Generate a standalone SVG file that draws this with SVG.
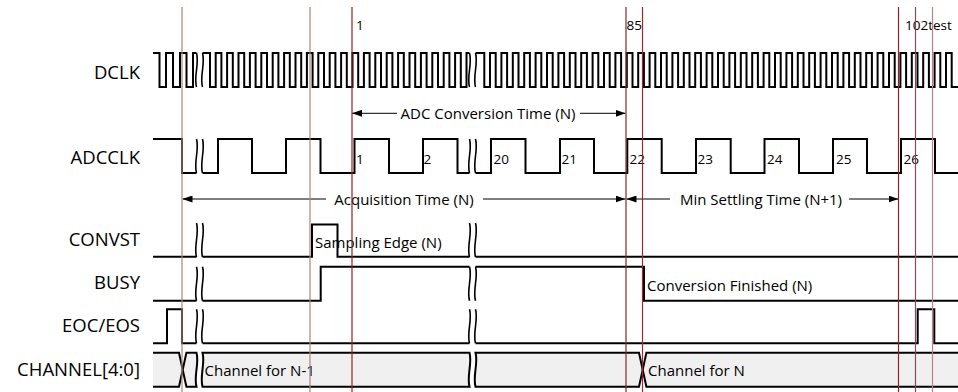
<svg xmlns="http://www.w3.org/2000/svg" width="958" height="392" viewBox="0 0 958 392">
<style>
.lbl{font-family:"Open Sans","Liberation Sans",sans-serif;font-size:18.5px;fill:#000;text-anchor:end}
.t{font-family:"Open Sans","Liberation Sans",sans-serif;font-size:15px;fill:#000}
.tm{font-family:"Open Sans","Liberation Sans",sans-serif;font-size:15px;fill:#000;text-anchor:middle}
.n{font-family:"Open Sans","Liberation Sans",sans-serif;font-size:13.5px;fill:#000}
.w{fill:none;stroke:#000;stroke-width:2;stroke-linejoin:miter}
.bus{fill:#f0f0f0;stroke:#000;stroke-width:2}
.brk{fill:none;stroke:#000;stroke-width:1.6}
.ar{fill:none;stroke:#000;stroke-width:1}
.vl{stroke-width:1.2;fill:none}
</style>
<defs>
<marker id="ah" viewBox="0 0 10 7" refX="10" refY="3.5" markerWidth="10" markerHeight="7" markerUnits="userSpaceOnUse" orient="auto-start-reverse"><path d="M0,0 L10,3.5 L0,7 Z" fill="#000"/></marker>
<g id="bk"><path class="brk" d="M0,0 C3,11 -3,23 0,34"/><path class="brk" d="M6,0 C9,11 3,23 6,34"/></g>
</defs>
<rect width="958" height="392" fill="#fff"/>

<g id="dclk">
<text class="lbl" x="140" y="79">DCLK</text>
<path class="w" d="M153,53 H159.5 V87 H166 V53 H173 V87 H180 V53 H186.5 V87 H193 V53 H196.5"/>
<path class="w" d="M202.5,53 H210 V87 h5.7V53h5.7V87h5.7V53h5.7V87h5.7V53h5.7V87h5.7V53h5.7V87h5.7V53h5.7V87 h5.7V53h5.7V87h5.7V53h5.7V87h5.7V53h5.7V87h5.7V53h5.7V87h5.7V53h5.7V87 h5.7V53h5.7V87h5.7V53h5.7V87h5.7V53h5.7V87h5.7V53h5.7V87h5.7V53h5.7V87 h5.7V53h5.7V87h5.7V53h5.7V87h5.7V53h5.7V87h5.7V53h5.7V87h5.7V53h5.7V87 h5.7V53h5.7V87h5.7V53h5.7V87 h5.7V53 H469.5"/>
<path class="w" d="M475.5,53 H484.3 V87 h5.7V53h5.7V87h5.7V53h5.7V87h5.7V53h5.7V87h5.7V53h5.7V87h5.7V53h5.7V87 h5.7V53h5.7V87h5.7V53h5.7V87h5.7V53h5.7V87h5.7V53h5.7V87h5.7V53h5.7V87 h5.7V53h5.7V87h5.7V53h5.7V87h5.7V53h5.7V87h5.7V53h5.7V87h5.7V53h5.7V87 h5.7V53h5.7V87h5.7V53h5.7V87h5.7V53h5.7V87h5.7V53h5.7V87h5.7V53h5.7V87 h5.7V53h5.7V87h5.7V53h5.7V87h5.7V53h5.7V87h5.7V53h5.7V87h5.7V53h5.7V87 h5.7V53h5.7V87h5.7V53h5.7V87h5.7V53h5.7V87h5.7V53h5.7V87h5.7V53h5.7V87 h5.7V53h5.7V87h5.7V53h5.7V87h5.7V53h5.7V87h5.7V53h5.7V87h5.7V53h5.7V87 h5.7V53h5.7V87h5.7V53h5.7V87h5.7V53h5.7V87h5.7V53h5.7V87h5.7V53h5.7V87 h5.7V53h5.7V87 H958"/>
<use href="#bk" x="196.5" y="53"/>
<use href="#bk" x="469.5" y="53"/>
<text class="n" x="356" y="29.5">1</text>
<text class="n" x="626.5" y="29.5">85</text>
<text class="n" x="905" y="29.5">102test</text>
</g>

<g id="adcclk">
<text class="lbl" x="140" y="164">ADCCLK</text>
<path class="w" d="M153,139 H182 V173 H196.5"/>
<path class="w" d="M202.5,173 H218 V139 H252 V173 H286 V139 H320.5 V173 H354.5 V139 H389 V173 H423 V139 H457.5 V173 H469.5"/>
<path class="w" d="M475.5,173 H491 V139 H525.5 V173 H560 V139 H594 V173 H627.3 V139 H661.7 V173 H696 V139 H730.7 V173 H764.5 V139 H799 V173 H833 V139 H867 V173 H901 V139 H935 V173 H958"/>
<use href="#bk" x="196.5" y="139"/>
<use href="#bk" x="469.5" y="139"/>
<text class="n" x="356" y="163.5">1</text>
<text class="n" x="423.5" y="163.5">2</text>
<text class="n" x="493.5" y="163.5">20</text>
<text class="n" x="561.5" y="163.5">21</text>
<text class="n" x="629.5" y="163.5">22</text>
<text class="n" x="697.5" y="163.5">23</text>
<text class="n" x="767" y="163.5">24</text>
<text class="n" x="836" y="163.5">25</text>
<text class="n" x="903.5" y="163.5">26</text>
</g>

<g id="convst">
<text class="lbl" x="140" y="245.5">CONVST</text>
<path class="w" d="M153,256.7 H196.5"/>
<path class="w" d="M202.5,256.7 H312 V224.5 H337.5 V256.7 H469.5"/>
<path class="w" d="M475.5,256.7 H958"/>
<use href="#bk" x="196.5" y="223"/>
<use href="#bk" x="469.5" y="223"/>
<text class="t" x="315" y="247.5">Sampling Edge (N)</text>
</g>

<g id="busy">
<text class="lbl" x="140" y="289.3">BUSY</text>
<path class="w" d="M153,300.7 H196.5"/>
<path class="w" d="M202.5,300.7 H320.7 V266.7 H469.5"/>
<path class="w" d="M475.5,266.7 H644 V300.7 H958"/>
<use href="#bk" x="196.5" y="266.7"/>
<use href="#bk" x="469.5" y="266.7"/>
<text class="t" x="647" y="290.5">Conversion Finished (N)</text>
</g>

<g id="eoc">
<text class="lbl" x="140" y="332.3">EOC/EOS</text>
<path class="w" d="M153,343.3 H167 V309.3 H182 V343.3 H196.5"/>
<path class="w" d="M202.5,343.3 H469.5"/>
<path class="w" d="M475.5,343.3 H917.7 V309.3 H934.3 V343.3 H958"/>
<use href="#bk" x="196.5" y="309.3"/>
<use href="#bk" x="469.5" y="309.3"/>
</g>

<g id="channel">
<text class="lbl" x="140" y="376">CHANNEL[4:0]</text>
<path class="bus" d="M153,352.7 H179 L182.7,369.7 L179,386.7 H153"/>
<path class="bus" d="M182.7,369.7 L186.4,352.7 H196.5 C199.5,363.7 193.5,375.7 196.5,386.7 H186.4 Z"/>
<path class="bus" d="M202.5,352.7 H469.5 C472.5,363.7 466.5,375.7 469.5,386.7 H202.5 C199.5,375.7 205.5,363.7 202.5,352.7 Z"/>
<path class="bus" d="M475.5,352.7 H639 L642.7,369.7 L639,386.7 H475.5 C472.5,375.7 478.5,363.7 475.5,352.7 Z"/>
<path class="bus" d="M642.7,369.7 L646.4,352.7 H962 V386.7 H646.4 Z"/>
<text class="t" x="204.5" y="376">Channel for N-1</text>
<text class="t" x="648" y="376">Channel for N</text>
</g>

<g id="connectors">
<path class="ar" d="M352,113.3 H397" marker-start="url(#ah)"/>
<path class="ar" d="M580,113.3 H625.5" marker-end="url(#ah)"/>
<text class="tm" x="488" y="119">ADC Conversion Time (N)</text>
<path class="ar" d="M182.5,199 H326" marker-start="url(#ah)"/>
<path class="ar" d="M483,199 H625.5" marker-end="url(#ah)"/>
<text class="tm" x="404" y="204.5">Acquisition Time (N)</text>
<path class="ar" d="M626.5,199 H670" marker-start="url(#ah)"/>
<path class="ar" d="M849,199 H898.5" marker-end="url(#ah)"/>
<text class="tm" x="761" y="204.5">Min Settling Time (N+1)</text>
</g>

<g id="markers">
<line class="vl" x1="182" y1="7" x2="182" y2="392" stroke="#b57f7f"/>
<line class="vl" x1="310" y1="7" x2="310" y2="392" stroke="#b57f7f"/>
<line class="vl" x1="352" y1="7" x2="352" y2="392" stroke="#962020"/>
<line class="vl" x1="626" y1="7" x2="626" y2="392" stroke="#7d2a2a"/>
<line class="vl" x1="642.5" y1="7" x2="642.5" y2="392" stroke="#a02828"/>
<line class="vl" x1="898.5" y1="7" x2="898.5" y2="392" stroke="#962020"/>
<line class="vl" x1="915.5" y1="7" x2="915.5" y2="392" stroke="#8a4a5a"/>
<line class="vl" x1="932.5" y1="7" x2="932.5" y2="392" stroke="#c08080"/>
</g>
</svg>
